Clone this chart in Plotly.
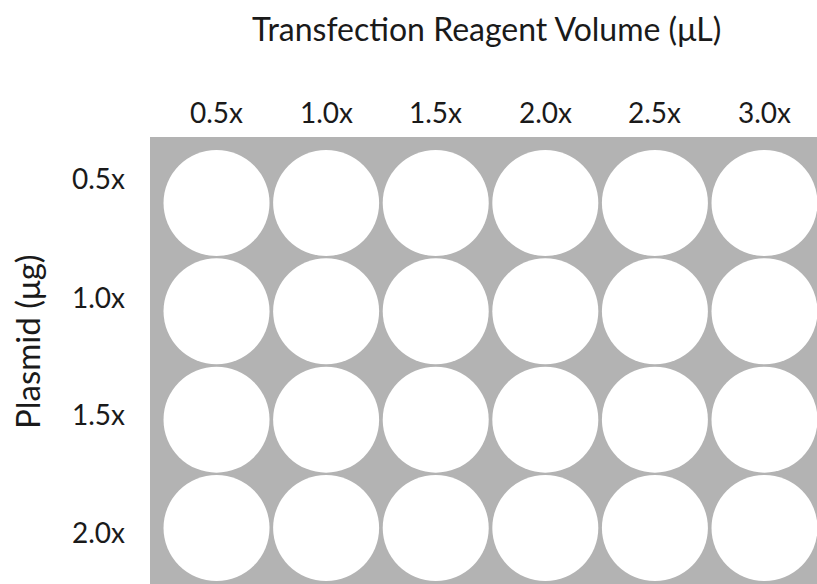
import plotly.graph_objects as go

reagent_labels = ["0.5x", "1.0x", "1.5x", "2.0x", "2.5x", "3.0x"]
plasmid_labels = ["0.5x", "1.0x", "1.5x", "2.0x"]
title_text = "Transfection Reagent Volume (μL)"
ytitle_text = "Plasmid (μg)"

FONT = "Lato, Open Sans, sans-serif"
GRAY = "#b3b3b3"
TXT = "#1a1a1a"

xs, ys = [], []
for r in range(len(plasmid_labels)):
    for c in range(len(reagent_labels)):
        xs.append(c)
        ys.append(r)

fig = go.Figure()
fig.add_trace(go.Scatter(
    x=xs, y=ys, mode="markers",
    marker=dict(size=106, color="white", line=dict(width=0)),
    hoverinfo="skip", showlegend=False,
))

H_PLOT = 447.0
W_PLOT = 667.0


def py(p):
    return (584 - p) / H_PLOT


def px(p):
    return (p - 150) / W_PLOT


fig.update_layout(
    width=817, height=584,
    margin=dict(l=150, r=0, t=137, b=0),
    paper_bgcolor="white", plot_bgcolor=GRAY,
    font=dict(family=FONT, color=TXT),
    xaxis=dict(range=[-0.607, 5.479], showgrid=False, zeroline=False,
               showticklabels=False, ticks="", showline=False, fixedrange=True),
    yaxis=dict(range=[3.517, -0.609], showgrid=False, zeroline=False,
               showticklabels=False, ticks="", showline=False, fixedrange=True),
)

# column labels (top)
for c, lab in enumerate(reagent_labels):
    fig.add_annotation(x=c, xref="x", y=py(112), yref="paper", text=lab,
                       showarrow=False, xanchor="center", yanchor="middle",
                       font=dict(size=28, family=FONT, color=TXT))

# row labels (left)
yshift = [25, 14, 6, -4]
for i, lab in enumerate(plasmid_labels):
    fig.add_annotation(x=px(127), xref="paper", xanchor="right",
                       y=i, yref="y", yshift=yshift[i], yanchor="middle",
                       text=lab, showarrow=False,
                       font=dict(size=28, family=FONT, color=TXT))

# title
fig.add_annotation(x=px(486), xref="paper", y=py(28), yref="paper",
                   text=title_text, showarrow=False, xanchor="center", yanchor="middle",
                   font=dict(size=32, family=FONT, color=TXT))

# y-axis title
fig.add_annotation(x=px(27), xref="paper", y=py(342), yref="paper",
                   text=ytitle_text, textangle=-90, showarrow=False,
                   xanchor="center", yanchor="middle",
                   font=dict(size=33, family=FONT, color=TXT))

fig.write_html("out.html", config={"displayModeBar": False},
               post_script="document.body.style.margin='0';document.body.style.overflow='hidden';")
